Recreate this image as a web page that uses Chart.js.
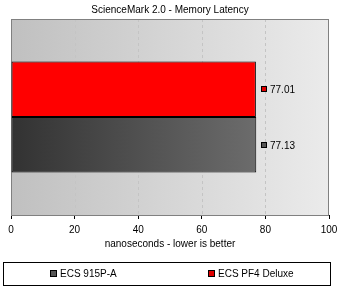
<!DOCTYPE html>
<html>
<head>
<meta charset="utf-8">
<script src="https://cdn.jsdelivr.net/npm/chart.js@4"></script>
<style>
  html, body { margin: 0; padding: 0; background: #fff; }
  #wrap { position: relative; width: 339px; height: 290px; }
  #legend {
    position: absolute; left: 3px; top: 262px; width: 326px; height: 22px;
    border: 1px solid #000; font: 10px "Liberation Sans", Arial, sans-serif; color: #000;
  }
  .item { position: absolute; top: 5px; white-space: nowrap; }
  .sw { display: inline-block; width: 5px; height: 5px; border: 1px solid #000; margin-right: 3px; vertical-align: 0px; }
</style>
</head>
<body>
<div id="wrap">
  <canvas id="chart" width="339" height="290"></canvas>
  <div id="legend"></div>
</div>
<script>
const categories = ['ScienceMark 2.0'];
const seriesNames = ['ECS PF4 Deluxe', 'ECS 915P-A'];
const pf4Values = [77.01];
const p915Values = [77.13];
const xTicks = [0, 20, 40, 60, 80, 100];

const FONT = '"Liberation Sans", Arial, sans-serif';

// legend goes in its own box, 915P-A first like the original
const legendItems = [
    { name: seriesNames[1], color: '#555555', left: 46 },
    { name: seriesNames[0], color: '#e00000', left: 204 }
];
const legendEl = document.getElementById('legend');
legendItems.forEach(it => {
    const d = document.createElement('span');
    d.className = 'item';
    d.style.left = it.left + 'px';
    d.innerHTML = '<span class="sw" style="background:' + it.color + '"></span>' + it.name;
    legendEl.appendChild(d);
});

function greyGradient(context) {
    const chart = context.chart;
    const area = chart.chartArea;
    if (!area || !chart.scales.x) return '#555';
    const x1 = chart.scales.x.getPixelForValue(context.raw);
    const g = chart.ctx.createLinearGradient(area.left, 0, x1, 0);
    g.addColorStop(0, '#323232');
    g.addColorStop(1, '#6c6c6c');
    return g;
}

const plotBackground = {
    id: 'plotBackground',
    beforeDatasetsDraw(chart) {
        const { ctx, chartArea: a, scales } = chart;
        ctx.save();
        const g = ctx.createLinearGradient(a.left, 0, a.right, 0);
        g.addColorStop(0, '#c0c0c0');
        g.addColorStop(1, '#ebebeb');
        ctx.fillStyle = g;
        ctx.fillRect(a.left, a.top, a.right - a.left, a.bottom - a.top);
        ctx.strokeStyle = '#c4c4c4';
        ctx.lineWidth = 1;
        ctx.setLineDash([3, 3]);
        xTicks.slice(1, -1).forEach(v => {
            const x = Math.round(scales.x.getPixelForValue(v)) + 0.5;
            ctx.beginPath();
            ctx.moveTo(x, a.top);
            ctx.lineTo(x, a.bottom);
            ctx.stroke();
        });
        ctx.setLineDash([]);
        ctx.strokeStyle = '#808080';
        ctx.strokeRect(a.left + 0.5, a.top + 0.5, a.right - a.left - 1, a.bottom - a.top);
        ctx.restore();
    }
};

const valueLabels = {
    id: 'valueLabels',
    afterDatasetsDraw(chart) {
        const ctx = chart.ctx;
        ctx.save();
        ctx.font = '10px ' + FONT;
        ctx.textBaseline = 'middle';
        ctx.textAlign = 'left';
        chart.data.datasets.forEach((ds, i) => {
            chart.getDatasetMeta(i).data.forEach((bar, j) => {
                const x = Math.round(bar.x) + 5;
                const y = Math.round(bar.y);
                ctx.fillStyle = ds.swatch;
                ctx.fillRect(x, y - 3, 6, 6);
                ctx.strokeStyle = '#000';
                ctx.strokeRect(x + 0.5, y - 2.5, 5, 5);
                ctx.fillStyle = '#000';
                ctx.fillText(ds.data[j].toFixed(2), x + 9, y + 1);
            });
        });
        ctx.restore();
    }
};

new Chart(document.getElementById('chart'), {
    type: 'bar',
    data: {
        labels: categories,
        datasets: [
            {
                label: seriesNames[0],
                data: pf4Values,
                backgroundColor: '#ff0000',
                swatch: '#e00000',
                borderColor: '#000',
                borderWidth: 1,
                borderSkipped: false
            },
            {
                label: seriesNames[1],
                data: p915Values,
                backgroundColor: greyGradient,
                swatch: '#555555',
                borderColor: '#000',
                borderWidth: 1,
                borderSkipped: false
            }
        ]
    },
    options: {
        indexAxis: 'y',
        responsive: false,
        animation: false,
        layout: { padding: { left: 11, right: 10, top: 0, bottom: 40 } },
        datasets: { bar: { categoryPercentage: 0.566, barPercentage: 1 } },
        plugins: {
            legend: { display: false },
            tooltip: { enabled: false },
            title: {
                display: true,
                text: 'ScienceMark 2.0 - Memory Latency',
                color: '#000',
                font: { family: FONT, size: 10, weight: 'normal' },
                padding: { top: 4, bottom: 3 }
            }
        },
        scales: {
            x: {
                min: 0,
                max: 100,
                afterBuildTicks: s => { s.ticks = xTicks.map(v => ({ value: v })); },
                afterFit: s => {
                    s.height = 35;
                    s.paddingLeft = 0;
                    s.paddingRight = 0;
                },
                grid: { drawOnChartArea: false, tickLength: 4, color: '#000' },
                border: { color: '#000' },
                ticks: { color: '#000', padding: 5, maxRotation: 0, font: { family: FONT, size: 10 } },
                title: {
                    display: true,
                    text: 'nanoseconds - lower is better',
                    color: '#000',
                    padding: { top: 2, bottom: 0 },
                    font: { family: FONT, size: 10 }
                }
            },
            y: { display: false }
        }
    },
    plugins: [plotBackground, valueLabels]
});
</script>
</body>
</html>
